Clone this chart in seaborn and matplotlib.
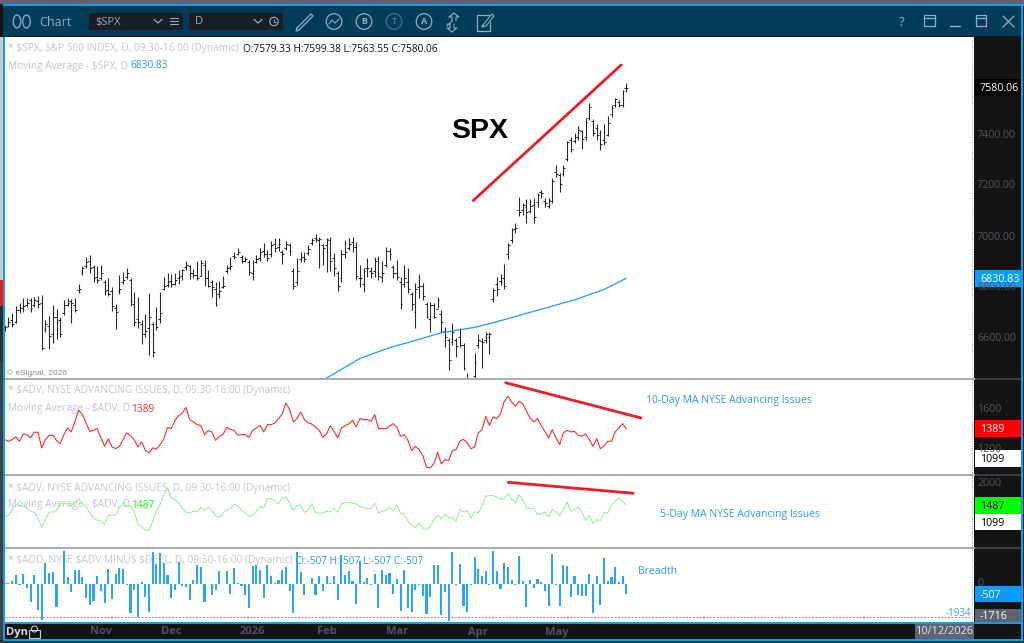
import numpy as np
import seaborn as sns
import matplotlib.pyplot as plt
from matplotlib.patches import Rectangle, Circle, Ellipse

# daily bars (index 0 = first visible bar)
highs = [6648,6678,6694,6720,6733,6753,6753,6755,6759,6763,6766,6667,6683,6726,6709,6680,6746,6753,6750,6753,
         6809,6881,6914,6923,6884,6881,6884,6825,6831,6798,6730,6844,6857,6873,6831,6776,6756,6667,6691,6772,
         6661,6717,6775,6834,6853,6848,6851,6864,6868,6899,6884,6867,6899,6903,6901,6864,6825,6818,6821,6840,
         6884,6914,6936,6949,6923,6916,6903,6901,6923,6949,6969,6942,6979,6988,6988,6942,6979,6969,6870,6912,
         6936,6936,6962,6988,7004,6995,6966,6991,6995,6929,6860,6942,6981,6988,6994,6975,6883,6870,6909,6876,
         6916,6918,6900,6952,6948,6883,6903,6837,6883,6870,6778,6811,6848,6811,6739,6739,6732,6756,6706,6641,
         6595,6654,6595,6634,6575,6457,6435,6539,6611,6595,6618,6618,6791,6837,6848,6887,6971,7027,7049,7152,
         7128,7141,7141,7145,7167,7178,7145,7145,7224,7276,7246,7276,7372,7385,7403,7429,7414,7462,7518,7456,
         7437,7414,7437,7469,7512,7541,7531,7571,7599.38]
lows = [6622,6641,6639,6654,6694,6700,6717,6700,6717,6716,6550,6618,6553,6576,6591,6602,6687,6720,6654,6700,
        6772,6843,6870,6851,6818,6814,6825,6766,6763,6704,6631,6770,6809,6827,6722,6644,6637,6572,6602,6530,
        6521,6628,6657,6783,6798,6796,6805,6809,6825,6864,6827,6831,6825,6838,6801,6798,6759,6720,6753,6792,
        6853,6864,6906,6923,6890,6893,6844,6825,6890,6897,6916,6899,6916,6936,6940,6886,6942,6923,6789,6805,
        6894,6894,6923,6962,6975,6870,6884,6857,6861,6838,6779,6818,6909,6942,6935,6824,6798,6776,6837,6831,
        6837,6824,6818,6877,6903,6831,6824,6709,6798,6772,6706,6634,6752,6746,6673,6621,6673,6713,6615,6562,
        6470,6569,6523,6562,6470,6418,6390,6431,6556,6477,6578,6533,6739,6761,6804,6787,6905,6968,7007,7076,
        7080,7049,7086,7047,7112,7145,7112,7106,7128,7230,7171,7233,7293,7328,7364,7374,7338,7374,7453,7390,
        7374,7335,7355,7390,7466,7505,7505,7505,7563.55]
closes = [6640,6660,6650,6705,6715,6720,6735,6715,6745,6728,6555,6650,6605,6680,6660,6610,6725,6735,6735,6705,
          6790,6870,6895,6870,6830,6825,6850,6780,6770,6720,6700,6790,6825,6850,6740,6660,6660,6610,6625,6680,
          6540,6640,6695,6800,6815,6810,6825,6835,6865,6885,6850,6845,6830,6890,6830,6800,6795,6725,6780,6800,
          6870,6880,6915,6935,6900,6905,6855,6860,6905,6935,6925,6910,6960,6950,6965,6925,6965,6940,6800,6860,
          6915,6905,6945,6980,6985,6985,6950,6985,6900,6870,6800,6925,6935,6965,6960,6840,6830,6860,6870,6850,
          6900,6840,6850,6940,6925,6850,6835,6730,6830,6790,6730,6790,6800,6760,6680,6725,6680,6745,6660,6600,
          6510,6620,6565,6570,6480,6425,6400,6500,6590,6580,6610,6612,6785,6790,6815,6800,6960,7020,7030,7090,
          7120,7090,7115,7070,7160,7165,7125,7140,7215,7240,7200,7265,7365,7340,7385,7415,7380,7445,7505,7400,
          7395,7360,7365,7440,7500,7535,7510,7565,7580.06]
opens = [6630,6645,6665,6660,6705,6715,6725,6745,6725,6740,6735,6630,6645,6610,6680,6665,6695,6725,6740,6725,
         6785,6850,6880,6900,6875,6835,6830,6815,6785,6780,6715,6780,6815,6835,6825,6730,6670,6650,6610,6635,
         6650,6650,6670,6790,6805,6820,6810,6830,6840,6875,6880,6850,6845,6840,6885,6830,6815,6790,6770,6795,
         6860,6875,6920,6925,6915,6900,6895,6850,6895,6910,6940,6925,6925,6965,6955,6935,6950,6960,6860,6815,
         6905,6915,6930,6970,6990,6980,6960,6960,6980,6910,6850,6830,6925,6950,6975,6955,6830,6810,6870,6860,
         6860,6905,6835,6885,6940,6875,6850,6815,6810,6815,6770,6700,6795,6800,6730,6670,6725,6710,6690,6625,
         6590,6580,6590,6600,6570,6440,6425,6445,6570,6585,6590,6600,6750,6810,6820,6830,6925,6980,7025,7100,
         7100,7110,7095,7120,7130,7170,7135,7115,7135,7250,7235,7240,7300,7375,7370,7385,7410,7385,7460,7450,
         7420,7400,7375,7395,7475,7510,7525,7510,7579.33]

ma_days = [87,90,96,104,112,118,127,133,141,154,162,168]
ma_values = [6439,6464,6516,6558,6591,6617,6638,6660,6693,6746,6787,6830.83]

adv_10 = [1284,1267,1284,1311,1267,1341,1334,1301,1357,1357,1201,1284,1327,1327,1274,1244,1334,1400,1361,1467,
          1577,1534,1450,1367,1377,1394,1301,1217,1291,1211,1194,1217,1284,1351,1324,1284,1211,1261,1177,1151,
          1201,1191,1234,1291,1407,1394,1474,1524,1550,1607,1484,1460,1434,1424,1334,1374,1361,1277,1317,1334,
          1407,1384,1377,1327,1334,1334,1307,1377,1400,1427,1361,1434,1434,1450,1494,1540,1650,1584,1460,1494,
          1560,1484,1450,1440,1410,1377,1307,1341,1424,1367,1301,1400,1424,1440,1477,1410,1494,1484,1484,1467,
          1534,1394,1394,1394,1417,1444,1407,1317,1334,1274,1174,1217,1184,1124,1008,1001,1044,1157,1041,1084,
          1074,1174,1184,1267,1287,1251,1191,1211,1351,1384,1517,1427,1510,1494,1540,1667,1717,1660,1617,1667,
          1640,1567,1500,1460,1494,1424,1367,1301,1384,1301,1234,1351,1377,1361,1367,1327,1317,1341,1284,1217,
          1294,1191,1224,1267,1267,1361,1400,1444,1389]
adv_5 = [1228,1243,1383,1499,1475,1475,1421,1344,1321,1189,973,1151,1321,1329,1360,1514,1514,1537,1460,1560,
         1638,1499,1460,1305,1189,1135,1112,1035,1251,1251,1251,1421,1537,1460,1475,1344,1035,996,903,903,
         1112,1344,1499,1730,1885,1653,1615,1537,1421,1321,1305,1344,1329,1437,1360,1444,1360,1228,1205,1305,
         1383,1398,1514,1460,1383,1305,1228,1251,1344,1460,1421,1638,1638,1591,1514,1653,1669,1537,1360,1475,
         1483,1321,1360,1522,1321,1298,1305,1344,1329,1421,1321,1514,1537,1553,1537,1514,1460,1437,1406,1406,
         1537,1305,1344,1367,1437,1360,1483,1305,1282,1097,1035,957,1073,957,911,996,1151,1251,1174,1282,
         1189,1205,1112,1383,1329,1360,1189,1329,1305,1460,1692,1707,1707,1669,1615,1653,1754,1638,1537,1730,
         1615,1421,1406,1406,1267,1282,1329,1205,1383,1329,1243,1383,1560,1344,1383,1437,1329,1128,1251,1066,
         1151,1128,1321,1305,1483,1576,1653,1576,1487]
breadth = [52,52,139,485,-69,537,-208,-953,485,-1369,-1854,1092,572,624,-1196,-17,1698,347,-433,711,
           711,364,-728,-1109,-867,433,-381,-988,780,-780,520,832,797,-69,-1508,-329,-1733,104,-693,-1473,
           1664,1040,1612,1092,485,-728,-295,1127,-121,-173,-815,225,1005,884,-936,-10,-589,-329,659,-10,
           659,-503,832,52,-121,-589,-1248,919,971,711,-728,1005,399,52,225,745,884,-347,-1508,1664,
           624,-555,-10,312,-555,433,-381,433,52,399,-815,1525,451,659,173,-1040,1178,104,312,-69,
           520,-1248,745,485,572,-503,277,-1421,728,-1248,-1473,-295,-69,-641,-1560,-676,1005,971,-1629,-433,
           -1906,1664,-69,1040,-1161,-1473,-69,1404,780,399,659,-69,1733,693,-260,1092,867,225,-35,1473,
           139,-1196,225,-208,260,104,-347,-1127,1560,-69,-1161,1005,919,-693,433,-589,-641,-641,520,-1508,
           433,-1109,1352,173,364,884,104,433,-507]

# hand drawn trend lines: day index, value
trend_spx = ([126.6, 166.6], [7136, 7669])
trend_10 = ([135.4, 172], [1853, 1500])
trend_5 = ([136.1, 169.9], [2016, 1761])

month_labels = ['Nov', 'Dec', '2026', 'Feb', 'Mar', 'Apr', 'May']
month_px = [101, 171, 252, 327, 397, 478, 557]

W, H = 1024, 643
days = np.arange(len(highs))

TITLE = '#003c58'
BLUE = '#0aa0ee'
SEP = '#aaacb6'
GUTTER = '#141414'
LEG = '#c2c5d3'
TICK = '#55555f'
LIGHT = '#8fb0c4'
BAR = '#2ca4ff'

sns.set_style('white')
plt.rcParams['font.family'] = ['Open Sans', 'DejaVu Sans']

fig = plt.figure(figsize=(W / 100, H / 100), dpi=100, facecolor=GUTTER)


def flat_axes(z):
    a = fig.add_axes([0, 0, 1, 1], zorder=z)
    a.set_xlim(0, W)
    a.set_ylim(H, 0)
    a.axis('off')
    a.patch.set_alpha(0)
    return a


def box(a, x0, y0, x1, y1, color, **kw):
    a.add_patch(Rectangle((x0, y0), x1 - x0, y1 - y0, facecolor=color, edgecolor='none', **kw))


def panel(top, bottom, ymin, ymax):
    a = fig.add_axes([5 / W, 1 - bottom / H, 966 / W, (bottom - top) / H], zorder=2)
    a.patch.set_alpha(0)
    a.set_xlim(0.08, 261.16)
    a.set_ylim(ymin, ymax)
    a.axis('off')
    return a


back = flat_axes(0)
over = flat_axes(5)

# window frame
box(back, 0, 0, W, 4, '#5f6374')
box(back, 0, 4, W, 643, GUTTER)
box(back, 0, 37, 3, 640, '#c9cad0')
box(back, 0, 280, 3, 306, '#f01818')
box(back, 0, 306, 3, 362, '#2a2d35')
box(back, 0, 362, 3, 640, '#3d4048')
box(back, 3, 4, 1024, 6, BLUE)
box(back, 3, 4, 5, 641, BLUE)
box(back, 1021, 4, 1023, 641, BLUE)
box(back, 3, 6, 1021, 36, TITLE)
box(back, 3, 36, 1021, 37, '#0c1a22')
box(back, 5, 37, 971, 622, 'white')
box(back, 971, 37, 974, 622, 'white')
back.vlines(971.5, 37, 622, color='#9a9ca6', lw=0.7, ls=(0, (1, 1.5)))
for y in [379, 475, 548]:
    box(back, 5, y - 1.2, 975, y + 0.8, SEP)
    box(back, 975, y - 1, 1021, y + 0.5, '#3a3b44')
box(back, 3, 622, 1023, 624, BLUE)
box(back, 3, 639, 1023, 641, BLUE)
box(back, 0, 641, W, 643, '#333640')

# toolbar
for cx in [17, 26.5]:
    back.add_patch(Ellipse((cx, 21.5), 7.5, 13, fill=False, edgecolor=LIGHT, lw=0.9))
back.text(39, 22, 'Chart', color=LIGHT, fontsize=9, va='center')
box(back, 89, 13, 183, 30, '#1b1d24')
box(back, 189, 13, 283, 30, '#1b1d24')
back.text(95, 22, '$SPX', color=LIGHT, fontsize=8, va='center')
back.text(195, 22, 'D', color=LIGHT, fontsize=8, va='center')
for cx in [158, 258]:
    back.plot([cx - 4, cx, cx + 4], [19.5, 23, 19.5], color=LIGHT, lw=0.9)
for y in [18, 21, 24]:
    back.plot([170, 178], [y, y], color=LIGHT, lw=0.8)
back.add_patch(Circle((274, 21.5), 4.2, fill=False, edgecolor=LIGHT, lw=0.8))
back.plot([274, 274, 276], [19, 21.5, 21.5], color=LIGHT, lw=0.6)
back.plot([297, 311, 313, 299, 296, 297], [28, 14, 16, 30, 31, 28], color=LIGHT, lw=0.9)
for cx, letter, col in [(334, '', LIGHT), (364, 'B', LIGHT), (394, 'T', '#44708a'), (424, 'A', LIGHT)]:
    back.add_patch(Circle((cx, 21.5), 7.8, fill=False, edgecolor=col, lw=0.9))
    back.text(cx, 22, letter, color=col, fontsize=6.5, ha='center', va='center', weight='bold')
back.plot([329, 332, 335, 339], [24, 20, 23, 19], color=LIGHT, lw=0.8)
back.plot([447, 452, 452, 449, 454, 459, 456, 456], [26, 21, 17, 17, 13, 17, 17, 21], color=LIGHT, lw=0.8)
back.plot([447, 450, 450, 447, 452, 457, 454, 454], [24, 24, 28, 28, 32, 28, 28, 24], color=LIGHT, lw=0.8)
back.plot([489, 477, 477, 490, 490], [15, 15, 31, 31, 22], color=LIGHT, lw=0.9)
back.plot([483, 492, 494, 486, 482, 483], [25, 14, 16, 26, 27, 25], color=LIGHT, lw=0.8)
back.text(902, 22, '?', color=LIGHT, fontsize=9.5, ha='center', va='center')
back.add_patch(Rectangle((924, 15), 11, 11, fill=False, edgecolor=LIGHT, lw=0.9))
back.plot([924, 935], [18, 18], color=LIGHT, lw=0.9)
back.plot([950, 960], [26, 26], color=LIGHT, lw=1)
back.add_patch(Rectangle((976, 15), 10, 11, fill=False, edgecolor=LIGHT, lw=0.9))
back.plot([976, 986], [18, 18], color=LIGHT, lw=0.9)
back.plot([1003, 1014], [16, 27], color=LIGHT, lw=0.9)
back.plot([1003, 1014], [27, 16], color=LIGHT, lw=0.9)

# study legends sit under the marks
LS = 7.25
back.text(8, 49, '* $SPX, S&P 500 INDEX, D, 09:30-16:00 (Dynamic)', color=LEG, fontsize=LS, va='center')
back.text(243, 49, 'O:7579.33 H:7599.38 L:7563.55 C:7580.06', color='#111111', fontsize=LS, va='center')
back.text(8, 66, 'Moving Average - $SPX, D', color=LEG, fontsize=LS, va='center')
back.text(130, 66, '6830.83', color='#1e9bff', fontsize=LS, va='center')
back.text(8, 391, '* $ADV, NYSE ADVANCING ISSUES, D, 09:30-16:00 (Dynamic)', color=LEG, fontsize=LS, va='center')
back.text(8, 409, 'Moving Average - $ADV, D', color=LEG, fontsize=LS, va='center')
back.text(131, 409, '1389', color='#ff2a2a', fontsize=LS, va='center')
back.text(8, 488, '* $ADV, NYSE ADVANCING ISSUES, D, 09:30-16:00 (Dynamic)', color=LEG, fontsize=LS, va='center')
back.text(8, 505, 'Moving Average - $ADV, D', color=LEG, fontsize=LS, va='center')
back.text(131, 505, '1487', color='#18f018', fontsize=LS, va='center')
back.text(8, 561, '* $ADD, NYSE $ADV MINUS $DECL, D, 09:30-16:00 (Dynamic)', color=LEG, fontsize=LS, va='center')
back.text(296, 561, 'O:-507 H:-507 L:-507 C:-507', color='#1e9bff', fontsize=LS, va='center')
back.text(7, 373, '\u00a9 eSignal, 2026', color='#8a8a90', fontsize=6, va='center',
          family=['Liberation Sans', 'DejaVu Sans'])

# price panel
ax = panel(37, 378, 6439, 7779)
ax.vlines(days, lows, highs, color='#2a2a2a', lw=0.8)
ax.hlines(closes, days, days + 0.5, color='black', lw=0.6)
ax.hlines(opens, days - 0.5, days, color='black', lw=0.6)
sns.lineplot(x=ma_days, y=ma_values, ax=ax, color='#1e9bff', linewidth=0.9, errorbar=None)
sns.lineplot(x=trend_spx[0], y=trend_spx[1], ax=ax, color='#ee1c25', linewidth=2.0, errorbar=None)

# 10 day
ax2 = panel(380, 474, 940, 1880)
sns.lineplot(x=days, y=adv_10, ax=ax2, color='#ff2a2a', linewidth=0.8, errorbar=None)
sns.lineplot(x=trend_10[0], y=trend_10[1], ax=ax2, color='#ee1c25', linewidth=2.0, errorbar=None)

# 5 day
ax3 = panel(476, 547, 515, 2162)
sns.lineplot(x=days, y=adv_5, ax=ax3, color='#8ff08f', linewidth=0.7, errorbar=None)
sns.lineplot(x=trend_5[0], y=trend_5[1], ax=ax3, color='#ee1c25', linewidth=2.0, errorbar=None)

# breadth
ax4 = panel(549, 622, -1976, 1820)
sns.barplot(x=days, y=breadth, ax=ax4, native_scale=True, color=BAR, saturation=1, width=0.55, linewidth=0)
ax4.hlines(-1716, 0.08, 261.16, color='#8a8a92', lw=0.7, ls=(0, (2, 1.5)))
ax4.set_xlim(0.08, 261.16)
ax4.set_ylim(-1976, 1820)
ax4.axis('off')

# notes
over.text(451, 131, 'SPX', color='black', fontsize=20.5, weight='bold', va='center',
          family=['Liberation Sans', 'DejaVu Sans'])
over.text(646, 401, '10-Day MA NYSE Advancing Issues', color='#2b9cf2', fontsize=7.5, va='center')
over.text(660, 515, '5-Day MA NYSE Advancing Issues', color='#2b9cf2', fontsize=7.5, va='center')
over.text(638, 571, 'Breadth', color='#2b9cf2', fontsize=7.5, va='center')
over.text(971, 613, '-1934', color='#2b9cf2', fontsize=7, ha='right', va='center')

# scale labels
for label, y in [('7400.00', 135), ('7200.00', 186), ('7000.00', 237), ('6800.00', 288), ('6600.00', 338.5),
                 ('1600', 409), ('1200', 449), ('2000', 484), ('0', 584)]:
    over.text(977, y, label, color=TICK, fontsize=7.7, va='center')

# value tags
for y0, y1, col, txt, tc in [(79, 96, 'black', '7580.06', 'white'), (270, 287, '#0a9cff', '6830.83', 'white'),
                             (420, 437, '#ff0000', '1389', 'white'), (450, 467, 'white', '1099', 'black'),
                             (497, 514, '#00ff00', '1487', 'black'), (514, 530, 'white', '1099', 'black'),
                             (586, 602, '#0a9cff', '-507', 'white'), (609, 622, '#5f6374', '-1716', 'white')]:
    box(over, 975, y0, 1021, y1, col)
    over.text(980, (y0 + y1) / 2 + 1, txt, color=tc, fontsize=7.7, va='center')

# time axis
box(back, 5, 624, 1021, 639, GUTTER)
over.text(6, 632, 'Dyn', color='#d8d8de', fontsize=8, va='center', weight='bold')
over.add_patch(Rectangle((29, 630), 11, 8, fill=False, edgecolor='#c8c8d0', lw=0.8))
over.add_patch(Circle((34.5, 629), 3, fill=False, edgecolor='#c8c8d0', lw=0.8))
for label, x in zip(month_labels, month_px):
    over.text(x, 632, label, color='#4f5060', fontsize=8, ha='center', va='center', weight='bold')
box(over, 915, 624, 974, 639, '#5f6374')
over.text(944.5, 632, '10/12/2026', color='#e4e4ea', fontsize=7.8, ha='center', va='center')

fig.savefig('out.png', dpi=100, facecolor=GUTTER)
